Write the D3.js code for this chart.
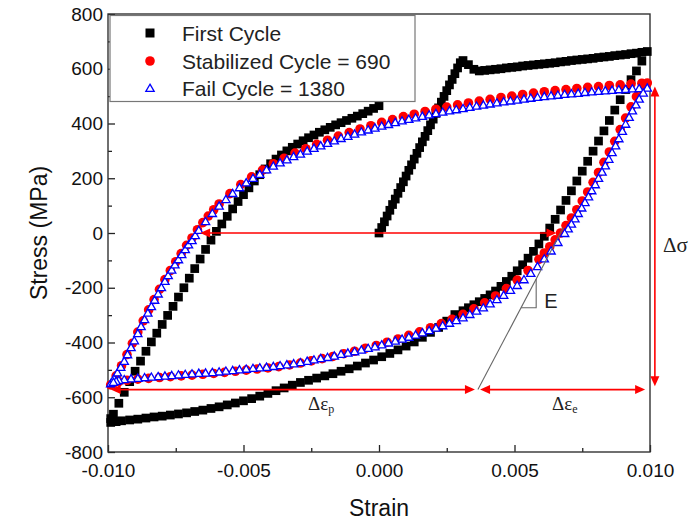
<!DOCTYPE html>
<html><head><meta charset="utf-8">
<script src="https://cdn.jsdelivr.net/npm/d3@7"></script>
<style>body{margin:0;background:#fff;}svg{display:block;}</style>
</head><body>
<svg id="chart" width="699" height="522"></svg>
<script>
// ---------------- DATA ----------------
const xTicks = [-0.010, -0.005, 0.000, 0.005, 0.010];
const xTickLabels = ["-0.010", "-0.005", "0.000", "0.005", "0.010"];
const xMinor = [-0.0075, -0.0025, 0.0025, 0.0075];
const yTicks = [-800, -600, -400, -200, 0, 200, 400, 600, 800];
const yMinor = [-700, -500, -300, -100, 100, 300, 500, 700];
const seriesNames = ["First Cycle", "Stabilized Cycle = 690", "Fail Cycle = 1380"];

// First cycle (black squares): [strain, stress MPa]
const firstLoading = [[0,0],[0.0001,20],[0.0002,41],[0.0003,62],[0.0004,83],[0.0005,104],[0.0006,124],[0.0007,145],[0.0008,166],[0.0009,187],[0.0010,208],[0.0011,229],[0.0012,249],[0.0013,270],[0.0014,291],[0.0015,312],[0.0016,333],[0.0017,353],[0.0018,374],[0.0019,395],[0.0020,416],[0.0021,437],[0.0022,457],[0.0023,478],[0.0024,499],[0.0025,520],[0.0026,541],[0.0027,561],[0.0028,582],[0.0029,603],[0.0030,622]];
const firstTop = [[0.0031,630],[0.0033,615],[0.0035,598],[0.0037,592],[0.0039,594],[0.0041,596],[0.0043,598],[0.0045,600],[0.0047,603],[0.0049,605],[0.0051,607],[0.0053,610],[0.0055,612],[0.0057,614],[0.0059,616],[0.0061,618],[0.0063,620],[0.0065,622],[0.0067,625],[0.0069,627],[0.0071,630],[0.0073,632],[0.0075,634],[0.0077,636],[0.0079,638],[0.0081,641],[0.0083,643],[0.0085,645],[0.0087,648],[0.0089,650],[0.0091,652],[0.0093,655],[0.0095,657],[0.0097,660],[0.0099,663]];
const firstUnload = [[0.0097,628],[0.0095,592],[0.0093,560],[0.0091,524],[0.0089,487],[0.0087,449],[0.0085,411],[0.0083,373],[0.0081,336],[0.0079,299],[0.0077,262],[0.0075,226],[0.0073,190],[0.0071,154],[0.0069,119],[0.0067,84],[0.0065,50],[0.0063,18],[0.0061,-12],[0.0059,-40],[0.0057,-67],[0.0055,-92],[0.0053,-116],[0.0051,-138],[0.0049,-158],[0.0047,-177],[0.0045,-195],[0.0043,-212],[0.0041,-226],[0.0039,-239],[0.0037,-251],[0.0035,-262],[0.0033,-273],[0.0031,-284]];
const firstLower = [[0.0028,-298],[0.0025,-322],[0.0022,-345],[0.0019,-363],[0.0016,-381],[0.0013,-398],[0.0010,-413],[0.0007,-427],[0.0004,-440],[0.0001,-452],[-0.0002,-464],[-0.0005,-475],[-0.0008,-486],[-0.0011,-496],[-0.0014,-505],[-0.0017,-514],[-0.0020,-522],[-0.0023,-530],[-0.0026,-538],[-0.0029,-546],[-0.0032,-556],[-0.0035,-566],[-0.0038,-576],[-0.0041,-586],[-0.0044,-596],[-0.0047,-605],[-0.0050,-613],[-0.0053,-621],[-0.0056,-628],[-0.0059,-635],[-0.0062,-641],[-0.0065,-647],[-0.0068,-652],[-0.0071,-657],[-0.0074,-661],[-0.0077,-665],[-0.0080,-669],[-0.0083,-672],[-0.0086,-676],[-0.0089,-680],[-0.0092,-683],[-0.0095,-686],[-0.0097,-689],[-0.0099,-692]];
const firstReload = [[-0.0099,-678],[-0.0098,-662],[-0.0096,-622],[-0.0094,-582],[-0.0092,-543],[-0.0090,-505],[-0.0088,-468],[-0.0086,-432],[-0.0084,-398],[-0.0082,-366],[-0.0080,-334],[-0.0078,-301],[-0.0076,-268],[-0.0074,-234],[-0.0072,-200],[-0.0070,-165],[-0.0068,-130],[-0.0066,-95],[-0.0064,-60],[-0.0062,-26],[-0.0060,6],[-0.0058,33],[-0.0056,61],[-0.0054,88],[-0.0052,115],[-0.0050,140],[-0.0048,165],[-0.0046,190],[-0.0044,213],[-0.0042,234],[-0.0040,253],[-0.0038,270],[-0.0036,285],[-0.0034,300],[-0.0032,313],[-0.0030,325],[-0.0028,337],[-0.0026,348],[-0.0024,358],[-0.0022,368],[-0.0020,377],[-0.0018,386],[-0.0016,395],[-0.0014,403],[-0.0012,411],[-0.0010,419],[-0.0008,427],[-0.0006,436],[-0.0004,445],[-0.0002,455],[0.0000,465]];

// Stabilized cycle 690 (red circles)
const stabUpper = [[-0.0099,-555],[-0.0097,-522],[-0.0095,-485],[-0.0093,-444],[-0.0091,-403],[-0.0089,-362],[-0.0087,-321],[-0.0085,-281],[-0.0083,-243],[-0.0081,-206],[-0.0079,-170],[-0.0077,-137],[-0.0075,-105],[-0.0073,-75],[-0.0071,-45],[-0.0069,-18],[-0.0067,12],[-0.0065,38],[-0.0063,62],[-0.0061,85],[-0.0059,106],[-0.0055,144],[-0.0051,177],[-0.0047,205],[-0.0043,230],[-0.0039,253],[-0.0035,273],[-0.0031,292],[-0.0027,308],[-0.0023,324],[-0.0019,339],[-0.0015,354],[-0.0011,367],[-0.0007,380],[-0.0003,392],[0.0001,404],[0.0005,414],[0.0009,425],[0.0013,434],[0.0017,444],[0.0021,452],[0.0025,460],[0.0029,468],[0.0033,475],[0.0037,482],[0.0041,488],[0.0045,495],[0.0049,500],[0.0053,506],[0.0057,511],[0.0061,516],[0.0065,520],[0.0069,524],[0.0073,528],[0.0077,532],[0.0081,535],[0.0085,539],[0.0089,541],[0.0093,544],[0.0097,547]];
const stabLower = [[0.0099,548],[0.0097,527],[0.0095,498],[0.0093,461],[0.0091,420],[0.0089,378],[0.0087,335],[0.0085,296],[0.0083,258],[0.0081,221],[0.0079,185],[0.0077,150],[0.0075,117],[0.0073,85],[0.0071,55],[0.0069,27],[0.0067,0],[0.0065,-25],[0.0063,-50],[0.0061,-73],[0.0059,-96],[0.0055,-137],[0.0051,-172],[0.0047,-203],[0.0043,-230],[0.0039,-255],[0.0035,-277],[0.0031,-297],[0.0027,-315],[0.0023,-331],[0.0019,-346],[0.0015,-361],[0.0011,-374],[0.0007,-387],[0.0003,-399],[-0.0001,-411],[-0.0005,-421],[-0.0009,-432],[-0.0013,-441],[-0.0017,-451],[-0.0021,-459],[-0.0025,-467],[-0.0029,-475],[-0.0033,-482],[-0.0037,-488],[-0.0041,-493],[-0.0045,-497],[-0.0049,-501],[-0.0053,-505],[-0.0057,-509],[-0.0061,-513],[-0.0065,-516],[-0.0069,-519],[-0.0073,-522],[-0.0077,-525],[-0.0081,-528],[-0.0085,-531],[-0.0089,-534],[-0.0093,-538],[-0.0096,-543],[-0.0098,-549]];

// Fail cycle 1380 (blue open triangles)
const failUpper = [[-0.0099,-550],[-0.00978,-532],[-0.00965,-510],[-0.00953,-490],[-0.0094,-468],[-0.00928,-444],[-0.00915,-418],[-0.00903,-393],[-0.0089,-367],[-0.00878,-341],[-0.00865,-316],[-0.00853,-292],[-0.0084,-268],[-0.00828,-245],[-0.00815,-222],[-0.00803,-199],[-0.0079,-176],[-0.00778,-155],[-0.00765,-135],[-0.00753,-116],[-0.0074,-97],[-0.00728,-78],[-0.00715,-60],[-0.00703,-43],[-0.0069,-27],[-0.00678,-9],[-0.00665,10],[-0.0064,42],[-0.00615,72],[-0.0059,99],[-0.00565,123],[-0.0054,145],[-0.00515,166],[-0.0049,184],[-0.00465,200],[-0.0044,215],[-0.00415,231],[-0.0039,245],[-0.00365,257],[-0.0034,268],[-0.00315,280],[-0.0029,289],[-0.00265,300],[-0.0024,310],[-0.00215,319],[-0.0019,328],[-0.00165,337],[-0.0014,346],[-0.00115,354],[-0.0009,362],[-0.00065,370],[-0.0004,377],[-0.00015,384],[0.0001,391],[0.00035,397],[0.0006,404],[0.00085,410],[0.0011,416],[0.00135,421],[0.0016,427],[0.00185,432],[0.0021,437],[0.00235,442],[0.0026,447],[0.00285,451],[0.0031,455],[0.00335,460],[0.0036,464],[0.00385,468],[0.0041,472],[0.00435,476],[0.0046,480],[0.00485,483],[0.0051,486],[0.00535,490],[0.0056,493],[0.00585,496],[0.0061,499],[0.00635,502],[0.0066,504],[0.00685,507],[0.0071,509],[0.00735,511],[0.0076,514],[0.00785,516],[0.0081,518],[0.00835,520],[0.0086,522],[0.00885,524],[0.0091,525],[0.00935,527],[0.0096,528]];
const failLower = [[0.0099,530],[0.00975,512],[0.0096,490],[0.00948,469],[0.00935,447],[0.00923,423],[0.0091,398],[0.00898,372],[0.00885,345],[0.00873,319],[0.0086,294],[0.00848,270],[0.00835,246],[0.00823,223],[0.0081,200],[0.00798,177],[0.00785,155],[0.00773,133],[0.0076,112],[0.00748,92],[0.00735,72],[0.00723,52],[0.0071,33],[0.00698,16],[0.00685,-1],[0.0066,-34],[0.00635,-65],[0.0061,-94],[0.00585,-122],[0.0056,-147],[0.00535,-170],[0.0051,-191],[0.00485,-209],[0.0046,-227],[0.00435,-243],[0.0041,-258],[0.00385,-273],[0.0036,-285],[0.00335,-297],[0.0031,-309],[0.00285,-319],[0.0026,-329],[0.00235,-338],[0.0021,-347],[0.00185,-356],[0.0016,-364],[0.00135,-372],[0.0011,-380],[0.00085,-387],[0.0006,-394],[0.00035,-401],[0.0001,-408],[-0.00015,-415],[-0.0004,-421],[-0.00065,-427],[-0.0009,-433],[-0.00115,-438],[-0.0014,-443],[-0.00165,-449],[-0.0019,-454],[-0.00215,-458],[-0.0024,-463],[-0.00265,-468],[-0.0029,-473],[-0.00315,-477],[-0.0034,-481],[-0.00365,-484],[-0.0039,-487],[-0.00415,-490],[-0.0044,-492],[-0.00465,-494],[-0.0049,-497],[-0.00515,-499],[-0.0054,-502],[-0.00565,-504],[-0.0059,-507],[-0.00615,-509],[-0.0064,-511],[-0.00665,-512],[-0.0069,-514],[-0.00715,-516],[-0.0074,-518],[-0.00765,-520],[-0.0079,-522],[-0.00815,-524],[-0.0084,-526],[-0.00865,-528],[-0.0089,-530],[-0.00915,-532],[-0.0094,-535],[-0.0096,-538],[-0.0097,-541],[-0.0098,-545]];

// Annotations (data units)
const deltaSigmaArrow = {strain: 0.01018, from: 535, to: -560};
const zeroArrow = {stress: 0, from: -0.0066, to: 0.00655};
const dEpsPArrow = {stress: -572, from: -0.0099, to: 0.00354};
const dEpsEArrow = {stress: -572, from: 0.00373, to: 0.00982};
const tangentLine = [[0.00365, -572], [0.0068, 20]];
const eTriangleStrain = 0.0058, eTriangleStress = -273;

// ---------------- CHART ----------------
const svg = d3.select("#chart");
const x = d3.scaleLinear().domain([-0.010, 0.010]).range([108, 650]);
const y = d3.scaleLinear().domain([-800, 800]).range([452, 14]);
const SANS = "'Liberation Sans', Arial, Helvetica, sans-serif";
const SERIF = "'Liberation Serif', 'Times New Roman', serif";
const RED = "#ff0000", BLUE = "#0000ff";

svg.append("rect").attr("width", 699).attr("height", 522).attr("fill", "#fff");

// Axes
const axisStyle = g => {
  g.select(".domain").remove();
  g.selectAll("line").attr("stroke", "#222").attr("stroke-width", 1.3);
  g.selectAll("text").attr("font-family", SANS).attr("font-size", "19px").attr("fill", "#111");
};
svg.append("g").attr("transform", "translate(0,452)")
  .call(d3.axisBottom(x).tickValues(xTicks).tickFormat((d, i) => xTickLabels[i]).tickSizeInner(-7).tickSizeOuter(0).tickPadding(12))
  .call(axisStyle);
svg.append("g").attr("transform", "translate(0,452)")
  .call(d3.axisBottom(x).tickValues(xMinor).tickFormat("").tickSizeInner(-4).tickSizeOuter(0))
  .call(axisStyle);
svg.append("g").attr("transform", "translate(108,0)")
  .call(d3.axisLeft(y).tickValues(yTicks).tickFormat(d => String(d)).tickSizeInner(-7).tickSizeOuter(0).tickPadding(5))
  .call(axisStyle);
svg.append("g").attr("transform", "translate(108,0)")
  .call(d3.axisLeft(y).tickValues(yMinor).tickFormat("").tickSizeInner(-4).tickSizeOuter(0))
  .call(axisStyle);

// Frame
svg.append("rect").attr("x", x(-0.010)).attr("y", y(800))
  .attr("width", x(0.010) - x(-0.010)).attr("height", y(-800) - y(800))
  .attr("fill", "none").attr("stroke", "#333").attr("stroke-width", 1.4);

// Axis titles
svg.append("text").attr("x", x(0)).attr("y", 516).attr("text-anchor", "middle")
  .attr("font-family", SANS).attr("font-size", "23px").attr("fill", "#111").text("Strain");
svg.append("text").attr("transform", "translate(47," + y(0) + ") rotate(-90)")
  .attr("text-anchor", "middle").attr("font-family", SANS).attr("font-size", "23px").attr("fill", "#111")
  .text("Stress (MPa)");

// Series
const pts = arrs => arrs.flat();
const firstData = pts([firstLoading, firstTop, firstUnload, firstLower, firstReload]);
const stabData = pts([stabUpper, stabLower]);
const failData = pts([failUpper, failLower]);

const sq = d3.symbol().type(d3.symbolSquare).size(76);
const tri = d3.symbol().type(d3.symbolTriangle).size(30);

svg.append("g").selectAll("path").data(firstData).join("path")
  .attr("d", sq).attr("transform", d => `translate(${x(d[0])},${y(d[1])})`).attr("fill", "#000");
svg.append("g").selectAll("circle").data(stabData).join("circle")
  .attr("cx", d => x(d[0])).attr("cy", d => y(d[1])).attr("r", 4.8).attr("fill", RED);
svg.append("g").selectAll("path").data(failData).join("path")
  .attr("d", tri).attr("transform", d => `translate(${x(d[0])},${y(d[1]) + 0.8})`)
  .attr("fill", "#fff").attr("stroke", BLUE).attr("stroke-width", 1.3);

// Arrow helper
function arrow(x1, y1, x2, y2, color) {
  const g = svg.append("g");
  const ang = Math.atan2(y2 - y1, x2 - x1);
  const L = 10, Wd = 4.5;
  const head = (px, py, a) => {
    const bx = px - L * Math.cos(a), by = py - L * Math.sin(a);
    const nx = -Math.sin(a) * Wd, ny = Math.cos(a) * Wd;
    g.append("path").attr("d", `M${px},${py}L${bx + nx},${by + ny}L${bx - nx},${by - ny}Z`).attr("fill", color);
  };
  g.append("line").attr("x1", x1 + 6 * Math.cos(ang)).attr("y1", y1 + 6 * Math.sin(ang))
    .attr("x2", x2 - 6 * Math.cos(ang)).attr("y2", y2 - 6 * Math.sin(ang))
    .attr("stroke", color).attr("stroke-width", 1.6);
  head(x2, y2, ang);
  head(x1, y1, ang + Math.PI);
}

// Tangent (elastic modulus) line
svg.append("line").attr("x1", x(tangentLine[0][0])).attr("y1", y(tangentLine[0][1]))
  .attr("x2", x(tangentLine[1][0])).attr("y2", y(tangentLine[1][1]))
  .attr("stroke", "#666").attr("stroke-width", 1.1);
const slope = (tangentLine[1][1] - tangentLine[0][1]) / (tangentLine[1][0] - tangentLine[0][0]);
const lineStrainAt = s => tangentLine[0][0] + (s - tangentLine[0][1]) / slope;
const lineStressAt = e => tangentLine[0][1] + (e - tangentLine[0][0]) * slope;
svg.append("path")
  .attr("d", `M${x(lineStrainAt(eTriangleStress))},${y(eTriangleStress)}L${x(eTriangleStrain)},${y(eTriangleStress)}L${x(eTriangleStrain)},${y(lineStressAt(eTriangleStrain))}`)
  .attr("fill", "none").attr("stroke", "#666").attr("stroke-width", 1.1);
svg.append("text").attr("x", x(eTriangleStrain) + 8).attr("y", y(eTriangleStress))
  .attr("font-family", SANS).attr("font-size", "20px").attr("fill", "#222").text("E");

// Arrows
arrow(x(zeroArrow.from), y(zeroArrow.stress), x(zeroArrow.to), y(zeroArrow.stress), RED);
arrow(x(dEpsPArrow.from), y(dEpsPArrow.stress), x(dEpsPArrow.to), y(dEpsPArrow.stress), RED);
arrow(x(dEpsEArrow.from), y(dEpsEArrow.stress), x(dEpsEArrow.to), y(dEpsEArrow.stress), RED);
arrow(x(deltaSigmaArrow.strain), y(deltaSigmaArrow.to), x(deltaSigmaArrow.strain), y(deltaSigmaArrow.from), RED);

// Delta labels
svg.append("text").attr("x", 663).attr("y", 252).attr("font-family", SERIF).attr("font-size", "21px")
  .attr("fill", "#222").text("Δσ");
const epsLabel = (xx, yy, sub) => {
  const t = svg.append("text").attr("x", xx).attr("y", yy).attr("font-family", SERIF)
    .attr("font-size", "19px").attr("fill", "#222");
  t.append("tspan").text("Δε");
  t.append("tspan").attr("font-size", "12px").attr("dy", 3).text(sub);
};
epsLabel(308, 410, "p");
epsLabel(552, 410, "e");

// Legend
const lg = svg.append("g");
lg.append("rect").attr("x", 110).attr("y", 15.5).attr("width", 305).attr("height", 86)
  .attr("fill", "#fff").attr("stroke", "#777").attr("stroke-width", 1.2);
const rows = [33, 61, 88];
lg.append("path").attr("d", d3.symbol().type(d3.symbolSquare).size(81)).attr("transform", `translate(150,${rows[0]})`).attr("fill", "#000");
lg.append("circle").attr("cx", 150).attr("cy", rows[1]).attr("r", 4.8).attr("fill", RED);
lg.append("path").attr("d", d3.symbol().type(d3.symbolTriangle).size(30)).attr("transform", `translate(150,${rows[2] + 1})`)
  .attr("fill", "#fff").attr("stroke", BLUE).attr("stroke-width", 1.3);
seriesNames.forEach((n, i) => {
  lg.append("text").attr("x", 182).attr("y", rows[i] + 7.5).attr("font-family", SANS)
    .attr("font-size", "21px").attr("fill", "#222").text(n);
});
</script>
</body></html>
